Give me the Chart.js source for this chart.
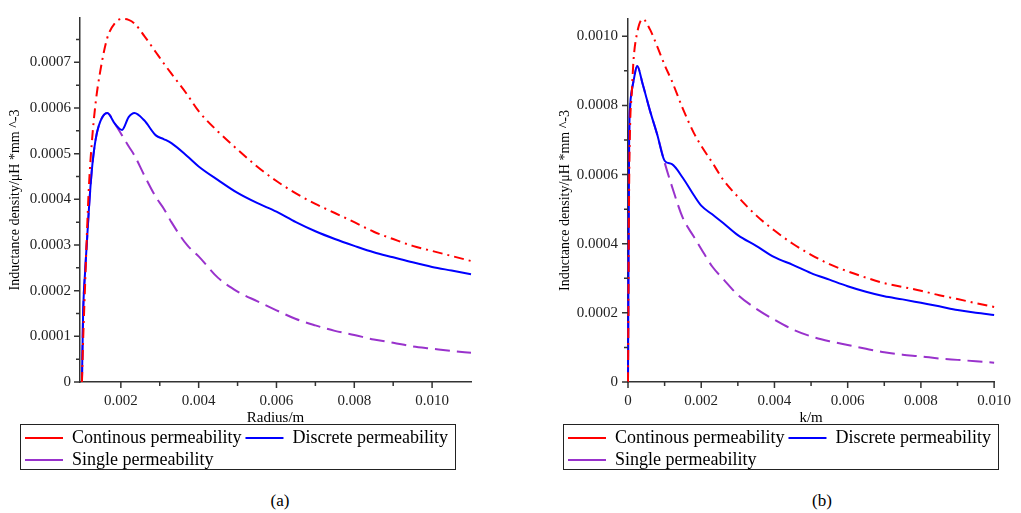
<!DOCTYPE html>
<html>
<head>
<meta charset="utf-8">
<script src="https://cdn.jsdelivr.net/npm/chart.js@4.4.0/dist/chart.umd.min.js"></script>
<style>
  body { margin: 0; width: 1021px; height: 513px; background: #fff; position: relative; overflow: hidden;
         font-family: "Liberation Serif", "Times New Roman", serif; }
  canvas { position: absolute; top: 0; }
  #chartA { left: 0; }
  #chartB { left: 540px; }
  .cap { position: absolute; top: 491px; width: 60px; font-size: 17px; line-height: 20px; text-align: center; color: #000; }
</style>
</head>
<body>
<canvas id="chartA" width="510" height="479"></canvas>
<canvas id="chartB" width="481" height="479"></canvas>
<div class="cap" style="left:250px">(a)</div>
<div class="cap" style="left:792px">(b)</div>
<script>
// series (same order in both panels)
const seriesNames = ['Continous permeability', 'Discrete permeability', 'Single permeability'];
const seriesColors = ['#ff0000', '#0000ff', '#9932cc'];
const seriesDash = [[10, 5, 2, 5], [], [15, 7]];

// panel (a): Radius/m
const xA = [0.001, 0.00103, 0.00108, 0.00113, 0.00118, 0.00125, 0.00135, 0.00147, 0.00165, 0.00185, 0.00203,
  0.0022, 0.00235, 0.0026, 0.0029, 0.0031, 0.0033, 0.0037, 0.004, 0.0045, 0.005, 0.0055, 0.006, 0.0065,
  0.007, 0.0075, 0.008, 0.0085, 0.009, 0.0095, 0.010, 0.0105, 0.011];
const contA = [0, 0.00009, 0.00021, 0.00033, 0.00043, 0.00052, 0.00061, 0.00068, 0.000753, 0.000786, 0.000795,
  0.000793, 0.000785, 0.000758, 0.000722, 0.000698, 0.000675, 0.00063, 0.000593, 0.000548, 0.000509, 0.000472,
  0.00044, 0.000413, 0.00039, 0.00037, 0.00035, 0.000329, 0.000313, 0.000298, 0.000287, 0.000276, 0.000265];
const discA = [0, 0.00015, 0.00024, 0.00031, 0.00038, 0.00046, 0.00053, 0.00057, 0.000589, 0.000565, 0.000552,
  0.00058, 0.000589, 0.000573, 0.00054, 0.000532, 0.000523, 0.000495, 0.000472, 0.000442, 0.000414, 0.000392,
  0.000373, 0.00035, 0.00033, 0.000313, 0.000298, 0.000284, 0.000273, 0.000262, 0.000252, 0.000244, 0.000236];
const singA = [0, 0.00015, 0.00024, 0.00031, 0.00038, 0.00046, 0.00053, 0.00057, 0.000589, 0.000565, 0.00054,
  0.000516, 0.000496, 0.000453, 0.000405, 0.00038, 0.00035, 0.0003, 0.000275, 0.000228, 0.000198, 0.000177,
  0.000157, 0.000138, 0.000124, 0.000112, 0.000103, 0.000093, 0.000086, 0.000078, 0.000073, 0.000068, 0.000064];
const xMajorA = [0.002, 0.004, 0.006, 0.008, 0.010];
const xLabelsA = ['0.002', '0.004', '0.006', '0.008', '0.010'];
const xMinorA = [0.003, 0.005, 0.007, 0.009];
const yMajorA = [0, 0.0001, 0.0002, 0.0003, 0.0004, 0.0005, 0.0006, 0.0007];
const yLabelsA = ['0', '0.0001', '0.0002', '0.0003', '0.0004', '0.0005', '0.0006', '0.0007'];
const yMinorA = [0.00005, 0.00015, 0.00025, 0.00035, 0.00045, 0.00055, 0.00065, 0.00075];

// panel (b): k/m
const xB = [0, 0.00003, 0.00006, 0.0001, 0.00015, 0.00025, 0.0004, 0.0006, 0.0008, 0.001, 0.0012, 0.0015,
  0.0018, 0.002, 0.0023, 0.0026, 0.003, 0.0035, 0.004, 0.0045, 0.005, 0.0055, 0.006, 0.0065, 0.007, 0.0075,
  0.008, 0.0085, 0.009, 0.0095, 0.010];
const contB = [0, 0.00055, 0.00075, 0.00083, 0.00093, 0.00101, 0.00105, 0.00102, 0.00097, 0.000917, 0.00087,
  0.00079, 0.00072, 0.000683, 0.000635, 0.000585, 0.000536, 0.000482, 0.000438, 0.0004, 0.000368, 0.000341,
  0.00032, 0.000302, 0.000286, 0.000275, 0.000264, 0.000251, 0.00024, 0.000228, 0.000217];
const discB = [0, 0.00068, 0.0008, 0.00084, 0.00087, 0.000914, 0.000862, 0.000785, 0.000715, 0.00064, 0.00063,
  0.00059, 0.00054, 0.00051, 0.000485, 0.00046, 0.000425, 0.000394, 0.000361, 0.000339, 0.000315, 0.000296,
  0.000277, 0.000261, 0.000248, 0.000239, 0.000229, 0.000219, 0.000208, 0.0002, 0.000194];
const singB = [0, 0.00068, 0.0008, 0.00084, 0.00087, 0.000914, 0.000862, 0.000785, 0.000715, 0.000635, 0.000566,
  0.000474, 0.00042, 0.000385, 0.000334, 0.000298, 0.000252, 0.000212, 0.00018, 0.000152, 0.000132, 0.000118,
  0.000107, 0.000096, 0.000086, 0.000079, 0.000074, 0.000068, 0.000064, 0.00006, 0.000056];
const xMajorB = [0, 0.002, 0.004, 0.006, 0.008, 0.010];
const xLabelsB = ['0', '0.002', '0.004', '0.006', '0.008', '0.010'];
const xMinorB = [0.001, 0.003, 0.005, 0.007, 0.009];
const yMajorB = [0, 0.0002, 0.0004, 0.0006, 0.0008, 0.0010];
const yLabelsB = ['0', '0.0002', '0.0004', '0.0006', '0.0008', '0.0010'];
const yMinorB = [0.0001, 0.0003, 0.0005, 0.0007, 0.0009];

Chart.defaults.font.family = '"Liberation Serif", "Times New Roman", serif';
const axisColor = '#333';

function toPoints(xs, ys) {
  return xs.map((x, i) => ({ x: x, y: ys[i] }));
}

function buildChart(id, p) {
  // outward tick marks (major + minor) and the frame round the legend
  const extras = {
    id: 'extras',
    afterDraw(chart) {
      const ctx = chart.ctx, a = chart.chartArea;
      const sx = chart.scales.x, sy = chart.scales.y;
      ctx.save();
      ctx.strokeStyle = axisColor;
      ctx.lineWidth = 1.5;
      ctx.beginPath();
      p.xMajor.forEach(v => { const px = sx.getPixelForValue(v); ctx.moveTo(px, a.bottom); ctx.lineTo(px, a.bottom + 6); });
      p.xMinor.forEach(v => { const px = sx.getPixelForValue(v); ctx.moveTo(px, a.bottom); ctx.lineTo(px, a.bottom + 4); });
      p.yMajor.forEach(v => { const py = sy.getPixelForValue(v); ctx.moveTo(a.left, py); ctx.lineTo(a.left - 6, py); });
      p.yMinor.forEach(v => { const py = sy.getPixelForValue(v); ctx.moveTo(a.left, py); ctx.lineTo(a.left - 4, py); });
      ctx.stroke();

      const lg = chart.legend, hb = lg.legendHitBoxes;
      const left = Math.min(...hb.map(h => h.left)) - 5.5;
      const right = Math.max(...hb.map(h => h.left + h.width)) + 7;
      ctx.lineWidth = 1;
      ctx.strokeStyle = '#222';
      ctx.strokeRect(Math.round(left) + 0.5, Math.round(lg.top - 1) + 0.5, Math.round(right - left), 45);
      ctx.restore();
    }
  };

  return new Chart(document.getElementById(id), {
    type: 'line',
    data: {
      datasets: p.series.map((ys, i) => ({
        label: seriesNames[i],
        data: toPoints(p.xs, ys),
        xAxisID: 'x',
        yAxisID: 'y',
        borderColor: seriesColors[i],
        backgroundColor: seriesColors[i],
        borderWidth: 2,
        borderDash: seriesDash[i],
        pointRadius: 0,
        cubicInterpolationMode: 'monotone',
        fill: false,
        clip: false
      }))
    },
    options: {
      responsive: false,
      animation: false,
      devicePixelRatio: 1,
      layout: { padding: { left: p.padLeft, top: p.padTop, right: 0, bottom: 0 } },
      plugins: {
        legend: {
          position: 'bottom',
          align: 'start',
          labels: {
            usePointStyle: true,
            pointStyle: 'line',
            pointStyleWidth: 38,
            padding: 4,
            color: '#000',
            font: { size: 18 }
          }
        },
        tooltip: { enabled: false }
      },
      scales: {
        x: {
          type: 'linear',
          min: p.xMin,
          max: p.xMax,
          grid: { display: false, drawTicks: false },
          border: { display: true, color: axisColor, width: 1.5 },
          afterBuildTicks: s => { s.ticks = p.xMajor.map(v => ({ value: v })); },
          ticks: { autoSkip: false, maxRotation: 0, padding: 10, color: '#222', font: { size: 15 },
                   callback: (v, i) => p.xLabels[i] },
          title: { display: true, text: p.xTitle, color: '#000', font: { size: 15 }, padding: { top: 0, bottom: -2 } },
          afterFit: s => { s.height = 43; }
        },
        y: {
          type: 'linear',
          position: 'left',
          min: 0,
          max: p.yMax,
          grid: { display: false, drawTicks: false },
          border: { display: true, color: axisColor, width: 1.5 },
          afterBuildTicks: s => { s.ticks = p.yMajor.map(v => ({ value: v })); },
          ticks: { autoSkip: false, padding: p.yTickPad, color: '#222', font: { size: 15 },
                   callback: (v, i) => p.yLabels[i] },
          title: { display: true, text: 'Inductance density/\u03bcH *mm ^-3', color: '#000', font: { size: 14 },
                   padding: { top: p.yTitlePad, bottom: 0 } },
          afterFit: s => { s.width = p.yWidth; }
        },
        yr: {
          type: 'linear',
          position: 'right',
          grid: { display: false, drawTicks: false },
          border: { display: false },
          ticks: { display: false },
          afterFit: s => { s.width = p.rightGap; }
        }
      }
    },
    plugins: [extras]
  });
}

buildChart('chartA', {
  xs: xA, series: [contA, discA, singA],
  xMin: 0.00095, xMax: 0.011, yMax: 0.000797,
  xMajor: xMajorA, xLabels: xLabelsA, xMinor: xMinorA,
  yMajor: yMajorA, yLabels: yLabelsA, yMinor: yMinorA,
  xTitle: 'Radius/m',
  padLeft: 21, padTop: 13, yWidth: 59, rightGap: 39, yTickPad: 9, yTitlePad: -14.4
});

buildChart('chartB', {
  xs: xB, series: [contB, discB, singB],
  xMin: 0, xMax: 0.010, yMax: 0.00105,
  xMajor: xMajorB, xLabels: xLabelsB, xMinor: xMinorB,
  yMajor: yMajorB, yLabels: yLabelsB, yMinor: yMinorB,
  xTitle: 'k/m',
  padLeft: 24, padTop: 12, yWidth: 64, rightGap: 20, yTickPad: 10, yTitlePad: -7.4
});
</script>
</body>
</html>
